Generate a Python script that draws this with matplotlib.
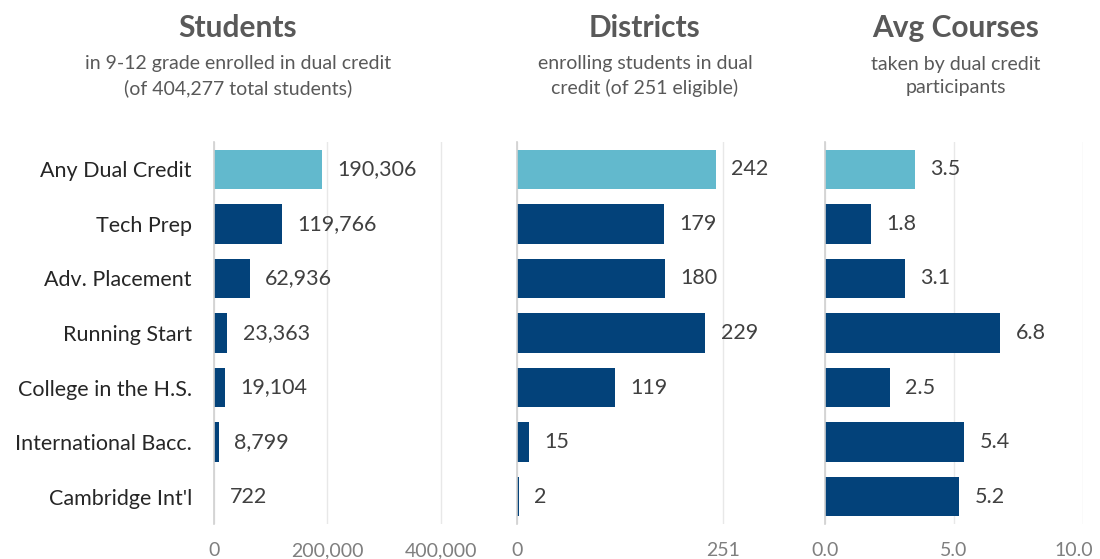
import matplotlib.pyplot as plt
from matplotlib.transforms import ScaledTranslation

categories = ["Any Dual Credit", "Tech Prep", "Adv. Placement", "Running Start",
              "College in the H.S.", "International Bacc.", "Cambridge Int'l"]
students = [190306, 119766, 62936, 23363, 19104, 8799, 722]
districts = [242, 179, 180, 229, 119, 15, 2]
avg_courses = [3.5, 1.8, 3.1, 6.8, 2.5, 5.4, 5.2]

plt.rcParams['font.family'] = ['Lato', 'DejaVu Sans']

LIGHT = '#62B9CD'
DARK = '#03427A'
W, H = 1100, 559

fig = plt.figure(figsize=(11, 5.59), dpi=100)


def px_axes(x0, x1, y0, y1):
    # pixel box -> figure fraction
    return fig.add_axes([x0 / W, 1 - y1 / H, (x1 - x0) / W, (y1 - y0) / H])


def panel(ax, vals, xlim, ticks, ticklabels, fmt, offset, show_cats=False):
    colors = [LIGHT] + [DARK] * (len(vals) - 1)
    y = list(range(len(vals)))
    ax.barh(y, vals, height=0.72, color=colors)
    ax.set_ylim(len(vals) - 0.5, -0.5)
    ax.set_xlim(*xlim)
    ax.set_xticks(ticks)
    ax.set_xticklabels(ticklabels)
    ax.tick_params(axis='x', length=0, colors='#7F7F7F', labelsize=14, pad=13)
    ax.tick_params(axis='y', length=0, labelsize=15.5, colors='#262626', pad=16)
    ax.grid(axis='x', color='#E8E8E8', linewidth=1)
    ax.set_axisbelow(True)
    for s in ['top', 'right', 'bottom']:
        ax.spines[s].set_visible(False)
    ax.spines['left'].set_color('#D0D0D0')
    ax.spines['left'].set_linewidth(1.2)
    if show_cats:
        ax.set_yticks(y)
        ax.set_yticklabels(categories)
    else:
        ax.set_yticks([])
    for yi, v in zip(y, vals):
        ax.annotate(fmt(v), (v, yi), xytext=(offset, 0), textcoords='offset points',
                    va='center', ha='left', fontsize=15.5, color='#404040')


ax1 = px_axes(214, 452, 142, 524)
panel(ax1, students, (0, 420000), [0, 200000, 400000], ['0', '200,000', '400,000'],
      lambda v: f"{v:,}", 11, show_cats=True)

ax2 = px_axes(517, 765, 142, 524)
panel(ax2, districts, (0, 301.5), [0, 251], ['0', '251'], lambda v: f"{v}", 11)

ax3 = px_axes(825, 1083, 142, 524)
panel(ax3, avg_courses, (0, 10), [0, 5, 10], ['0.0', '5.0', '10.0'], lambda v: f"{v:.1f}", 11)
# keep the last tick label inside the figure
last = ax3.get_xticklabels()[-1]
last.set_transform(last.get_transform() + ScaledTranslation(-0.09, 0, fig.dpi_scale_trans))

titles = [
    (238, "Students", "in 9-12 grade enrolled in dual credit\n(of 404,277 total students)"),
    (645, "Districts", "enrolling students in dual\ncredit (of 251 eligible)"),
    (956, "Avg Courses", "taken by dual credit\nparticipants"),
]
for xc, t, sub in titles:
    fig.text(xc / W, 1 - 28 / H, t, ha='center', va='center', fontsize=21.5,
             fontweight='bold', color='#595959')
    fig.text(xc / W, 1 - 76 / H, sub, ha='center', va='center', fontsize=14,
             color='#595959', linespacing=1.45)

fig.savefig("out.png", dpi=100)
